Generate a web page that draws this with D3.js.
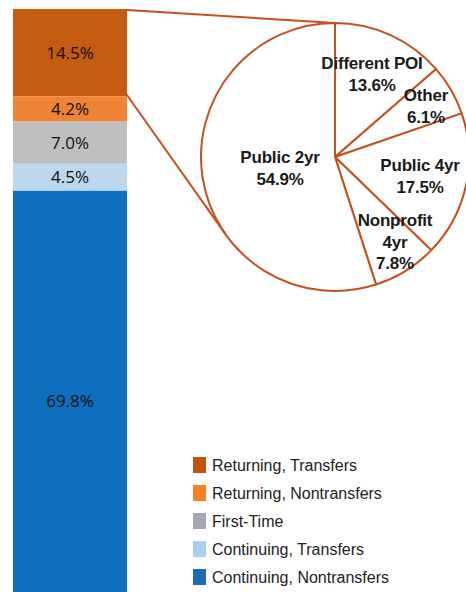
<!DOCTYPE html>
<html>
<head>
<meta charset="utf-8">
<script src="https://cdn.jsdelivr.net/npm/d3@7"></script>
<style>
  body { margin: 0; background: #fff; }
  svg { display: block; }
</style>
</head>
<body>
<div id="chart"></div>
<script>
// stacked bar, top to bottom
const barCategories = ['Returning, Transfers', 'Returning, Nontransfers', 'First-Time', 'Continuing, Transfers', 'Continuing, Nontransfers'];
const barValues = [14.5, 4.2, 7.0, 4.5, 69.8];
const barColors = ['#C55A11', '#EE8434', '#BFBFBF', '#BDD7EE', '#0E6FBF'];
const legendColors = ['#C2530F', '#F7811E', '#A5A7B1', '#A8D0EE', '#1B6BAE'];

// breakdown of returning transfers, clockwise from 12 o'clock
const pieLabels = [['Different POI'], ['Other'], ['Public 4yr'], ['Nonprofit', '4yr'], ['Public 2yr']];
const pieValues = [13.6, 6.1, 17.5, 7.8, 54.9];

const width = 466;
const height = 592;
const lineColor = '#C6501F';

let svg = d3.select('#chart').append('svg')
  .attr('width', width)
  .attr('height', height);

// Bar
let y = d3.scaleLinear().domain([0, 100]).range([9, 611]);
let x = d3.scaleBand().domain(['all']).range([13, 127]);

let stacked = [];
let acc = 0;
barValues.forEach((v, i) => {
  stacked.push({ name: barCategories[i], value: v, y0: acc, y1: acc + v, color: barColors[i] });
  acc += v;
});

svg.selectAll('rect.seg')
  .data(stacked)
  .enter()
  .append('rect')
    .attr('class', 'seg')
    .attr('x', x('all'))
    .attr('width', x.bandwidth())
    .attr('y', d => y(d.y0))
    .attr('height', d => y(d.y1) - y(d.y0))
    .attr('fill', d => d.color);

svg.selectAll('text.seg')
  .data(stacked)
  .enter()
  .append('text')
    .attr('x', x('all') + x.bandwidth() / 2)
    .attr('y', d => (y(d.y0) + y(d.y1)) / 2)
    .attr('dy', '0.36em')
    .attr('text-anchor', 'middle')
    .style('font-family', '"Open Sans", sans-serif')
    .style('font-size', '17px')
    .attr('fill', '#111')
    .text(d => d.value.toFixed(1) + '%');

// Pie
const cx = 335, cy = 157, r = 134;
let pie = d3.pie().sort(null).value(d => d)(pieValues);
let arc = d3.arc().innerRadius(0).outerRadius(r);

let pieG = svg.append('g').attr('transform', `translate(${cx},${cy})`);
pieG.selectAll('path')
  .data(pie)
  .enter()
  .append('path')
    .attr('d', arc)
    .attr('fill', '#fff')
    .attr('stroke', lineColor)
    .attr('stroke-width', 2)
    .attr('stroke-linejoin', 'round');

// Connectors: bar top -> pie top, segment bottom -> lower tangent on pie
let barRight = x('all') + x.bandwidth();
let topY = y(stacked[0].y0);
let botY = y(stacked[0].y1) - 4;
let dx = cx - barRight, dy = cy - botY;
let dist = Math.sqrt(dx * dx + dy * dy);
let base = Math.atan2(dy, dx);
let off = Math.asin(r / dist);
let tLen = Math.sqrt(dist * dist - r * r);
let tAng = base + off;
let tx = barRight + tLen * Math.cos(tAng);
let ty = botY + tLen * Math.sin(tAng);

svg.append('line')
  .attr('x1', barRight).attr('y1', topY + 1)
  .attr('x2', cx).attr('y2', cy - r)
  .attr('stroke', lineColor).attr('stroke-width', 2);
svg.append('line')
  .attr('x1', barRight - 2).attr('y1', botY)
  .attr('x2', tx).attr('y2', ty)
  .attr('stroke', lineColor).attr('stroke-width', 2);

// pie labels (placed by hand within slices)
const labelPos = [[372, 63], [426, 95], [420, 165], [395, 220], [280, 157]];
let lblG = svg.append('g')
  .style('font-family', '"Liberation Sans", Arial, sans-serif')
  .style('font-weight', 'bold')
  .style('font-size', '17px')
  .style('letter-spacing', '-0.2px')
  .attr('fill', '#1a1a1a');
pieLabels.forEach((lines, i) => {
  let t = lblG.append('text')
    .attr('x', labelPos[i][0])
    .attr('y', labelPos[i][1])
    .attr('text-anchor', 'middle');
  let all = lines.concat([pieValues[i].toFixed(1) + '%']);
  all.forEach((s, j) => {
    t.append('tspan')
      .attr('x', labelPos[i][0])
      .attr('dy', j === 0 ? '0.36em' : '1.27em')
      .text(s);
  });
});

// Legend
let legend = svg.append('g').attr('transform', 'translate(193,465)');
let rows = legend.selectAll('g')
  .data(barCategories)
  .enter()
  .append('g')
    .attr('transform', (d, i) => `translate(0,${i * 28})`);
rows.append('rect')
  .attr('x', 0).attr('y', -8)
  .attr('width', 13).attr('height', 16)
  .attr('fill', (d, i) => legendColors[i]);
rows.append('text')
  .attr('x', 19)
  .attr('dy', '0.36em')
  .style('font-family', '"Liberation Sans", Arial, sans-serif')
  .style('font-size', '16px')
  .attr('fill', '#222')
  .text(d => d);
</script>
</body>
</html>
